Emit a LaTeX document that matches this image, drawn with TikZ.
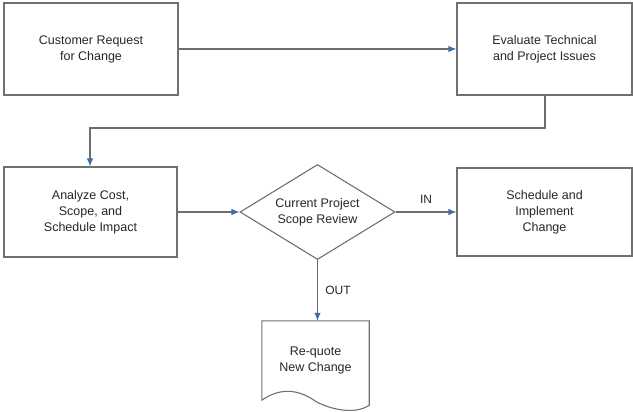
\documentclass[tikz,border=0pt]{standalone}
\usepackage{fontspec}
\setmainfont{Liberation Sans}
\usetikzlibrary{arrows.meta,shapes.geometric}
\definecolor{boxline}{HTML}{707070}
\definecolor{conline}{HTML}{6A6E74}
\definecolor{tipblue}{HTML}{3B6FA6}
\definecolor{txt}{HTML}{262626}
\begin{document}
\begin{tikzpicture}[x=1pt,y=-1pt,
  every node/.style={font=\fontsize{12.5}{16}\selectfont, text=txt, align=center},
  procbox/.style={draw=boxline, line width=1.1pt, rectangle, inner sep=0pt},
  decision/.style={draw=boxline, line width=1.1pt, diamond, aspect=1.63, inner sep=0pt, minimum width=155pt, minimum height=95pt},
  conn/.style={draw=conline, line width=1.1pt, -{Latex[length=8pt,width=6.5pt,color=tipblue]}},
  lbl/.style={font=\fontsize{12}{14}\selectfont}
]
\useasboundingbox (0,0) rectangle (633,412);

\node[procbox, minimum width=174pt, minimum height=92pt] (req) at (91,49) {Customer Request\\for Change};
\node[procbox, minimum width=175pt, minimum height=92pt] (eval) at (544.5,49) {Evaluate Technical\\and Project Issues};
\node[procbox, minimum width=173pt, minimum height=90pt] (ana) at (90.5,212) {Analyze Cost,\\Scope, and\\Schedule Impact};
\node[decision] (dia) at (317.5,212) {Current Project\\Scope Review};
\node[procbox, minimum width=175pt, minimum height=88pt] (sched) at (544.5,212) {Schedule and\\Implement\\Change};
\node[inner sep=0pt, minimum width=107pt, minimum height=78pt] (doc) at (315.5,360) {Re-quote\\New Change};

\draw[boxline, line width=1.1pt]
  (doc.north west) -- (doc.north east) -- ([yshift=-6pt]doc.south east)
  .. controls ([xshift=-14pt,yshift=-16pt]doc.south east) and ([xshift=-40pt,yshift=-10pt]doc.south east) .. ([yshift=-2pt]doc.south)
  .. controls ([xshift=-20pt,yshift=12pt]doc.south) and ([xshift=16pt,yshift=10pt]doc.south west) .. ([yshift=-1pt]doc.south west)
  -- cycle;

\coordinate (k1) at (545,128);
\coordinate (k2) at (90,128);

\draw[conn] (req.east) -- (eval.west);
\draw[conn] (eval.south -| k1) -- (k1) -- (k2) -- (k2 |- ana.north);
\draw[conn] (ana.east) -- (dia.west);
\draw[conn] (dia.east) -- node[lbl, above=5pt, pos=0.5] (in) {IN} (sched.west);
\draw[conn] (dia.south) -- node[lbl, right=4pt, pos=0.5] (out) {OUT} (dia.south |- doc.north);
\end{tikzpicture}
\end{document}
